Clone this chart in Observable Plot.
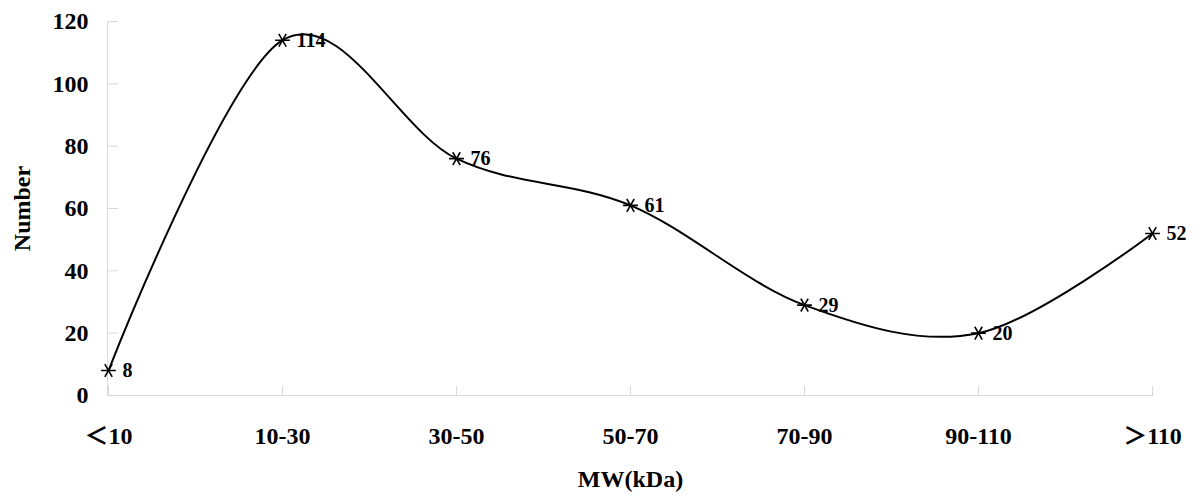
<!DOCTYPE html>
<html>
<head>
<meta charset="utf-8">
<script src="https://cdn.jsdelivr.net/npm/d3@7"></script>
<script src="https://cdn.jsdelivr.net/npm/@observablehq/plot@0.6"></script>
<style>
  html, body { margin: 0; padding: 0; background: #fff; }
  #chart svg { display: block; }
</style>
</head>
<body>
<div id="chart"></div>
<script>
const categories = ["＜10", "10-30", "30-50", "50-70", "70-90", "90-110", "＞110"];
const counts = [8, 114, 76, 61, 29, 20, 52];
const yTicks = [0, 20, 40, 60, 80, 100, 120];
const xTitle = "MW(kDa)";
const yTitle = "Number";

const data = categories.map((c, i) => ({cat: c, n: counts[i]}));
const font = "'Liberation Serif', 'Times New Roman', 'Noto Sans CJK SC', serif";

const W = 1200, H = 504, ML = 107, MR = 47, MT = 21, MB = 109;
const frameW = W - ML - MR, frameH = H - MT - MB;

const chart = Plot.plot({
  width: W,
  height: H,
  marginLeft: ML,
  marginRight: MR,
  marginTop: MT,
  marginBottom: MB,
  style: {fontFamily: font, fontWeight: "bold", color: "#000", background: "#fff"},
  x: {type: "point", domain: categories, padding: 0},
  y: {domain: [0, 120], ticks: yTicks},
  marks: [
    Plot.frame({anchor: "left", stroke: "#d9d9d9"}),
    Plot.frame({anchor: "bottom", stroke: "#d9d9d9"}),
    Plot.ruleY(yTicks, {stroke: "#d9d9d9", insetRight: frameW - 11}),
    Plot.ruleX(categories, {stroke: "#d9d9d9", insetTop: frameH - 9}),
    Plot.axisY(yTicks, {tickSize: 0, tickPadding: 19, fontSize: 24, fontWeight: "bold",
      label: yTitle, labelAnchor: "center", labelOffset: 95, labelArrow: "none"}),
    Plot.axisX({tickSize: 0, tickPadding: 31, fontSize: 24, fontWeight: "bold", label: null}),
    Plot.text([xTitle], {frameAnchor: "bottom", lineAnchor: "top", dy: 74, fontSize: 24, fontWeight: "bold"}),
    Plot.line(data, {x: "cat", y: "n", curve: "cardinal", stroke: "#000", strokeWidth: 2}),
    Plot.dot(data, {x: "cat", y: "n", symbol: "asterisk", rotate: 90, r: 7, stroke: "#000", strokeWidth: 1.6}),
    Plot.text(data, {x: "cat", y: "n", text: d => String(d.n), dx: 14, textAnchor: "start", fontSize: 20, fontWeight: "bold"})
  ]
});
document.getElementById("chart").appendChild(chart);
</script>
</body>
</html>
